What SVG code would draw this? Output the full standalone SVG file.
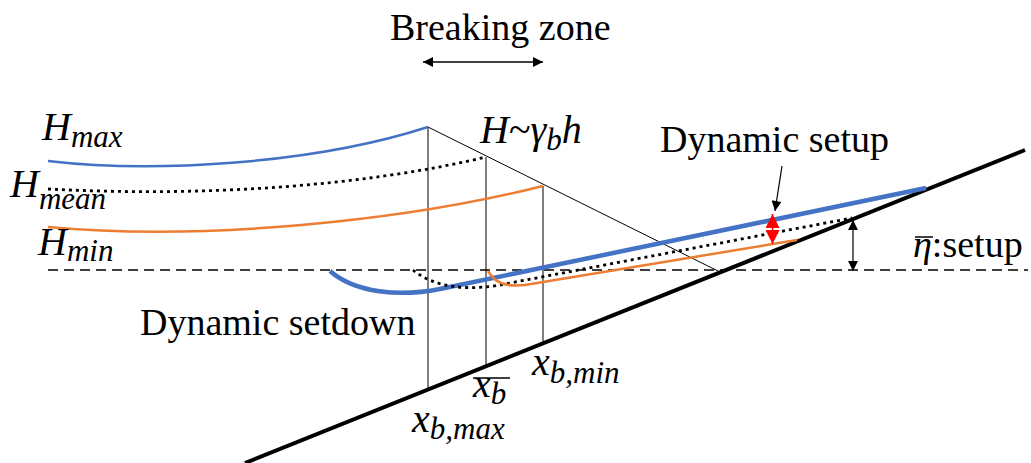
<svg xmlns="http://www.w3.org/2000/svg" width="1031" height="463" viewBox="0 0 1031 463">
<style>
.m{font-style:italic}
.thin{stroke:#000;stroke-width:1;fill:none}
.blue{stroke:#4472C4;fill:none}
.orange{stroke:#ED7D31;stroke-width:2.5;fill:none}
.dot{stroke:#000;stroke-width:2.8;stroke-dasharray:3 4;fill:none}
</style>
<defs>
<marker id="ah" viewBox="0 0 10 10" refX="10" refY="5" markerWidth="12" markerHeight="10" markerUnits="userSpaceOnUse" orient="auto-start-reverse"><path d="M0,0 L10,5 L0,10 z" fill="#000"/></marker>
<marker id="rh" viewBox="0 0 10 10" refX="10" refY="5" markerWidth="14" markerHeight="14" markerUnits="userSpaceOnUse" orient="auto-start-reverse"><path d="M0,0 L10,5 L0,10 z" fill="#FF0000"/></marker>
</defs>
<g id="connectors">
<line x1="48" y1="270" x2="1028" y2="270" stroke="#000" stroke-width="1.5" stroke-dasharray="10 6"/>
<line x1="245" y1="463" x2="1025" y2="150" stroke="#000" stroke-width="4"/>
<line class="thin" x1="428" y1="127" x2="720" y2="272" stroke-width="1.5"/>
<line class="thin" x1="428" y1="127" x2="428" y2="390"/>
<line class="thin" x1="486" y1="157" x2="486" y2="366"/>
<line class="thin" x1="543" y1="186" x2="543" y2="343"/>
<path class="blue" stroke-width="2.5" d="M48,161 C150,173 310,165 428,127"/>
<path class="dot" d="M48,189 C200,197 360,187 486,157"/>
<path class="orange" d="M48,227 C200,241 400,222 543,186"/>
<path class="blue" stroke-width="4.5" d="M330,271 C355,293 400,297 440,289 L926,188"/>
<path class="dot" d="M413,270 C435,288 470,292 510,283 L852,218"/>
<path class="orange" d="M488,271 C495,283 505,287 525,285 L797,240"/>
<line x1="423" y1="62" x2="543" y2="62" stroke="#000" stroke-width="1.5" marker-start="url(#ah)" marker-end="url(#ah)"/>
<line x1="782" y1="166" x2="775" y2="211" stroke="#000" stroke-width="1.2" marker-end="url(#ah)"/>
<line x1="853" y1="220" x2="853" y2="271" stroke="#000" stroke-width="1.2" marker-start="url(#ah)" marker-end="url(#ah)"/>
<line x1="772.5" y1="214" x2="772.5" y2="244" stroke="#FF0000" stroke-width="1.5" marker-start="url(#rh)" marker-end="url(#rh)"/>
</g>
<g id="labels" fill="#000">
<text x="390" y="40" font-size="38" font-family="Liberation Serif, serif">Breaking zone</text>
<text x="660" y="152" font-size="38" font-family="Liberation Serif, serif">Dynamic setup</text>
<text x="140" y="335" font-size="38" font-family="Liberation Serif, serif">Dynamic setdown</text>
<text class="m" x="42" y="140" font-size="40" font-family="Liberation Serif, serif">H<tspan font-size="31" dy="7">max</tspan></text>
<text class="m" x="10" y="197" font-size="40" font-family="Liberation Serif, serif">H<tspan font-size="31" dy="12">mean</tspan></text>
<text class="m" x="38" y="255" font-size="40" font-family="Liberation Serif, serif">H<tspan font-size="31" dy="6">min</tspan></text>
<text class="m" x="480" y="143" font-size="40" font-family="Liberation Serif, serif">H<tspan font-style="normal">~</tspan>γ<tspan font-size="31" dy="7">b</tspan><tspan dy="-7">h</tspan></text>
<text class="m" x="412" y="432" font-size="40" font-family="Liberation Serif, serif">x<tspan font-size="31" dy="7">b,max</tspan></text>
<text class="m" x="473" y="397" font-size="40" font-family="Liberation Serif, serif">x<tspan font-size="31" dy="7">b</tspan></text>
<line x1="473" y1="378" x2="510" y2="378" stroke="#000" stroke-width="1.5"/>
<text class="m" x="532" y="375" font-size="40" font-family="Liberation Serif, serif">x<tspan font-size="31" dy="8">b,min</tspan></text>
<text x="913" y="257" font-size="38" font-family="Liberation Serif, serif"><tspan class="m">η</tspan>:setup</text>
<line x1="915" y1="237" x2="933" y2="237" stroke="#000" stroke-width="1.5"/>
</g>
</svg>
